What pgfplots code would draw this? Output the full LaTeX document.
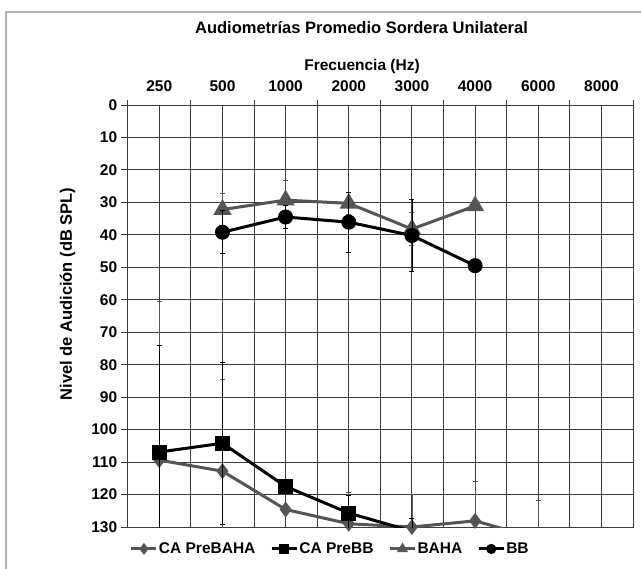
\documentclass[border=0pt]{standalone}
\usepackage{fontspec}
\setmainfont{Liberation Sans}
\usepackage{pgfplots}
\pgfplotsset{compat=1.18}
\definecolor{sgray}{HTML}{555555}
\definecolor{gridc}{HTML}{3C3C3C}
\begin{document}
\begin{tikzpicture}
\path[use as bounding box] (0,0) rectangle (641bp,569bp);
\draw[color=black!30,line width=1.5bp] (6bp,0) -- (6bp,557bp) -- (641bp,557bp);
\begin{axis}[
  at={(127.7bp,42bp)}, anchor=south west,
  width=505.3bp, height=422bp, scale only axis,
  xmin=-0.5, xmax=7.5, ymin=0, ymax=130, y dir=reverse,
  xtick={0,...,7},
  xticklabels={250,500,1000,2000,3000,4000,6000,8000},
  minor xtick={-0.5,0.5,...,7.5},
  xticklabel pos=upper, xtick pos=upper,
  ytick={0,10,...,130}, ytick pos=left,
  tick align=outside,
  major tick length=7bp,
  minor tick length=5bp,
  every tick/.style={gridc, line width=1bp},
  every minor tick/.style={gridc, line width=1bp},
  every major x tick/.append style={draw=none},
  grid=both,
  major grid style={gridc, line width=1bp},
  minor grid style={gridc, line width=1bp},
  axis line style={gridc, line width=1bp},
  /pgf/number format/assume math mode=true,
  tick label style={font=\fontsize{15.5bp}{18bp}\selectfont\bfseries},
  xticklabel style={yshift=3bp},
  title={Audiometrías Promedio Sordera Unilateral},
  title style={at={(0.4627,1)}, anchor=center, yshift=71bp, font=\fontsize{16.5bp}{19bp}\selectfont\bfseries},
  xlabel={Frecuencia (Hz)},
  xlabel style={at={(0.4637,1)}, anchor=center, yshift=39bp, font=\fontsize{15.5bp}{18bp}\selectfont\bfseries},
  ylabel={Nivel de Audición (dB SPL)},
  ylabel style={at={(-0.1191,0.552)}, anchor=center, font=\fontsize{16.5bp}{19bp}\selectfont\bfseries},
  clip mode=individual,
  legend columns=4,
  legend style={at={(0.40,-0.052)}, anchor=center, draw=none, fill=none,
    font=\fontsize{15.5bp}{18bp}\selectfont\bfseries,
    nodes={inner sep=1bp},
    /tikz/every odd column/.append style={column sep=0bp},
    /tikz/every even column/.append style={column sep=14bp},
    inner sep=0pt},
  legend image code/.code={\draw[#1,mark size=3.5bp,mark indices={2}] plot coordinates {(0bp,0bp) (12.5bp,0bp) (25bp,0bp)};},
  error bars/y dir=both, error bars/y explicit,
  error bars/error mark options={rotate=90, mark size=2.5bp, line width=0.7bp},
  error bars/error bar style={line width=0.7bp},
]
% CA PreBAHA
\addplot[sgray, line width=3bp, mark=diamond*, mark size=5.5bp, mark options={solid}, mark indices={1,2,3,4,5,6}]
  table[x=x, y=y, y error=e] {
  x y e
  0 109.4 49.0
  1 112.8 28.3
  2 124.6 0
  3 129.0 9.8
  4 130.0 10.0
  5 128.1 12.1
  6 133.6 11.8
};
\addlegendentry{CA PreBAHA}
% CA PreBB
\addplot[black, line width=3bp, mark=square*, mark size=6bp, mark options={solid}, mark indices={1,2,3,4}]
  table[x=x, y=y, y error=e] {
  x y e
  0 106.9 32.9
  1 104.2 25.0
  2 117.5 0
  3 125.7 5.5
  4 131.3 3.9
  5 136.0 0
};
\addlegendentry{CA PreBB}
% BAHA
\addplot[sgray, line width=3bp, mark=triangle*, mark size=7.5bp, mark options={solid}]
  table[x=x, y=y, y error=e] {
  x y e
  1 32.2 5.0
  2 29.3 6.0
  3 30.3 3.5
  4 38.2 5.0
  5 31.1 0
};
\addlegendentry{BAHA}
% BB
\addplot[black, line width=3bp, mark=*, mark size=6bp, mark options={solid}]
  table[x=x, y=y, y error=e] {
  x y e
  1 39.2 6.6
  2 34.5 3.5
  3 36.1 9.3
  4 40.2 11.0
  5 49.5 0
};
\addlegendentry{BB}
\end{axis}
\end{tikzpicture}
\end{document}
